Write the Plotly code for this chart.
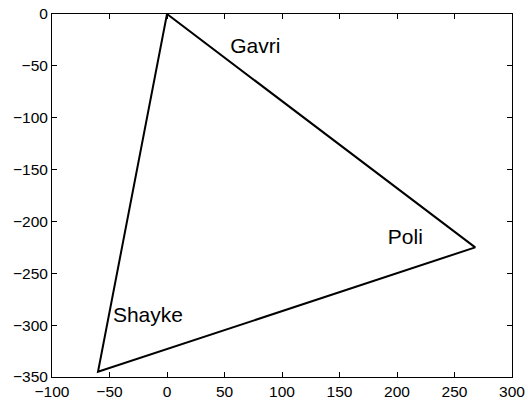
import plotly.graph_objects as go

# Triangle vertices (closed path)
xs = [0, 268, -60, 0]
ys = [0, -225, -345, 0]

label_text = ["Gavri", "Poli", "Shayke"]
label_x = [55, 192, -47]
label_y = [-33, -217, -292]

xticks = [-100, -50, 0, 50, 100, 150, 200, 250, 300]
yticks = [0, -50, -100, -150, -200, -250, -300, -350]

fig = go.Figure()
fig.add_trace(go.Scatter(x=xs, y=ys, mode="lines",
                         line=dict(color="black", width=2), showlegend=False,
                         hoverinfo="skip"))
fig.add_trace(go.Scatter(x=label_x, y=label_y, mode="text", text=label_text,
                         textposition="middle right",
                         textfont=dict(family="Liberation Sans, Arial", size=21, color="black"),
                         showlegend=False))

axis_common = dict(showline=True, linecolor="black", linewidth=1, mirror="ticks",
                   ticks="inside", ticklen=5, tickcolor="black", showgrid=False,
                   zeroline=False, automargin=False,
                   tickfont=dict(family="Liberation Sans, Arial", size=15.5, color="black"))
fig.update_xaxes(range=[-100, 300], tickvals=xticks, **axis_common)
fig.update_yaxes(range=[-350, 0], tickvals=yticks, **axis_common)

fig.update_layout(width=528, height=403, margin=dict(l=52, r=16, t=14, b=26),
                  plot_bgcolor="white", paper_bgcolor="white")
fig.write_html("out.html")
